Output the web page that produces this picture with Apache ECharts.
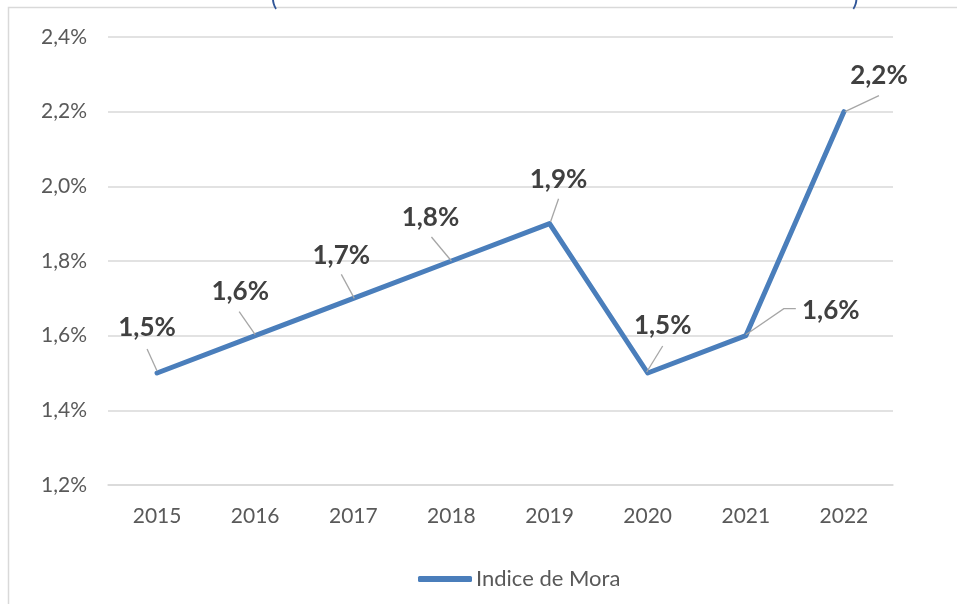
<!DOCTYPE html>
<html><head><meta charset="utf-8">
<script src="https://cdn.jsdelivr.net/npm/echarts@6/dist/echarts.min.js"></script>
<style>html,body{margin:0;padding:0;background:#fff}#c{width:957px;height:604px}</style>
</head><body><div id="c"></div>
<script>
const categories = ['2015','2016','2017','2018','2019','2020','2021','2022'];
const indiceMora = [1.5, 1.6, 1.7, 1.8, 1.9, 1.5, 1.6, 2.2];
const seriesName = 'Indice de Mora';
const yMin = 1.2, yMax = 2.4, yStep = 0.2;

// label placement relative to each point (pixels): label centre and leader polyline
const labelCenter = [[-10,-45],[-15,-44],[-12,-43],[-21,-43],[9,-44],[15,-47],[85,-25],[35,-36]];
const leaderPts = [
  [[0,-2],[-10,-24]],
  [[0,-1],[-16,-24]],
  [[1,0],[-12,-24]],
  [[0,0],[-20,-24]],
  [[1,-2],[9,-25]],
  [[-1,-1],[15,-27]],
  [[0,-1],[38,-27],[50,-27]],
  [[1,0],[35,-16]]
];
const fmt = v => v.toFixed(1).replace('.', ',') + '%';
const FONT = 'Lato';

const chart = echarts.init(document.getElementById('c'), null, {renderer:'canvas'});
chart.setOption({
  animation: false,
  backgroundColor: '#fff',
  textStyle: {fontFamily: FONT},
  grid: {left: 108, right: 64, top: 37, bottom: 119},
  graphic: [
    {type:'polyline', shape:{points:[[8.5,604],[8.5,7.5],[957,7.5]]}, style:{stroke:'#d9d9d9', lineWidth:1.5, fill:null}},
    {type:'text', left: 271, top: -14, style:{text:'(', fontSize:24, fontFamily:FONT, fill:'#2f5597'}},
    {type:'text', left: 852, top: -14, style:{text:')', fontSize:24, fontFamily:FONT, fill:'#2f5597'}}
  ],
  legend: {
    data: [seriesName], left: 413, top: 563,
    icon: 'roundRect', itemWidth: 54, itemHeight: 6, itemGap: 4,
    textStyle: {fontSize: 22, color: '#595959', fontFamily: FONT, padding:[0,0,0,-1]}
  },
  xAxis: {
    type: 'category', data: categories, boundaryGap: true,
    axisLine: {show: true, lineStyle: {color: '#d9d9d9', width: 1.5}},
    axisTick: {show: false},
    axisLabel: {fontSize: 21, color: '#595959', margin: 21, fontFamily: FONT}
  },
  yAxis: {
    type: 'value', min: yMin, max: yMax, interval: yStep,
    axisLine: {show: false}, axisTick: {show: false},
    splitLine: {lineStyle: {color: '#d9d9d9', width: 1.5}},
    axisLabel: {fontSize: 21, color: '#595959', margin: 21, fontFamily: FONT, formatter: v => fmt(v)}
  },
  series: [{
    name: seriesName, type: 'line', data: indiceMora,
    showSymbol: false, symbol: 'none',
    lineStyle: {color: '#4a7ebb', width: 5, cap: 'round', join: 'round'},
    itemStyle: {color: '#4a7ebb'}
  }, {
    name: 'labels', type: 'custom', z: 5,
    data: indiceMora.map((v, i) => [i, v]),
    renderItem: (params, api) => {
      const i = params.dataIndex;
      const p = api.coord([api.value(0), api.value(1)]);
      const c = labelCenter[i];
      return {
        type: 'group',
        children: [
          {type: 'polyline', shape: {points: leaderPts[i].map(o => [p[0] + o[0], p[1] + o[1]])},
           style: {stroke: '#a6a6a6', lineWidth: 1.3, fill: null}},
          {type: 'text', style: {text: fmt(api.value(1)), x: p[0] + c[0], y: p[1] + c[1],
            align: 'center', verticalAlign: 'middle', fill: '#404040',
            font: 'bold 26px ' + FONT}}
        ]
      };
    }
  }]
});
</script></body></html>
